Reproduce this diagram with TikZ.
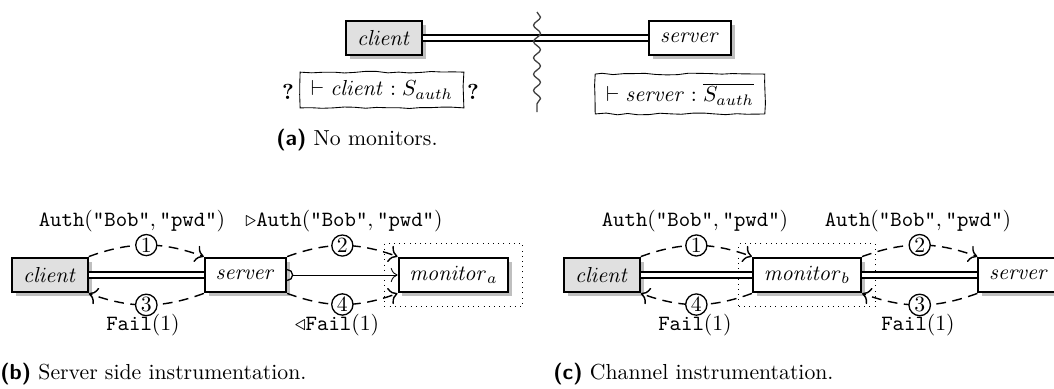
\documentclass[tikz,border=0pt]{standalone}
\usetikzlibrary{decorations.pathmorphing,shadows,fit,arrows.meta}
\begin{document}
\pgfmathsetseed{7}
\begin{tikzpicture}[x=0.46pt,y=-0.46pt,
  mybox/.style={draw,line width=0.95pt,fill=white,inner xsep=5pt,minimum height=16pt,
    drop shadow={shadow xshift=1.8pt,shadow yshift=-1.8pt,fill=black!25,opacity=1}},
  cbox/.style={mybox,fill=black!12},
  sbox/.style={mybox},
  dbl/.style={double,double distance=2.1pt,line width=0.6pt},
  msg/.style={line width=0.65pt,dash pattern=on 4.5pt off 3pt,-{To[scale=1.25]}},
  num/.style={circle,draw,semithick,fill=white,inner sep=0.5pt,solid},
  dotbox/.style={draw,dotted,inner sep=6pt},
  hand/.style={draw,decorate,decoration={random steps,segment length=5pt,amplitude=0.4pt},
    inner xsep=5pt,inner ysep=4pt},
  wiggle/.style={draw=black!75,semithick,decorate,
    decoration={snake,segment length=7.5pt,amplitude=1.6pt,post length=3pt}}]
\useasboundingbox (0,0) rectangle (1054,388);

% ---------- (a)
\node[cbox] (ca) at (384,38) {$\mathit{client}$};
\node[sbox] (sa) at (690,38) {$\mathit{server}$};
\draw[dbl] (ca) -- (sa);
\coordinate (wt) at (537,12);
\coordinate (wb) at (537,112);
\draw[wiggle] (wt) -- (wb);
\node[hand] (la) at (382,90) {$\vdash \mathit{client} : S_{auth}$};
\node (q1) at (288,92) {\textbf{?}};
\node (q2) at (473,92) {\textbf{?}};
\node[hand] (lb) at (680,94) {$\vdash \mathit{server} : \overline{S_{auth}}$};
\node (capa) at (357,140) {\textsf{\textbf{(a)}} No monitors.};

% ---------- (b)
\node[cbox] (cb) at (50,275) {$\mathit{client}$};
\node[sbox] (sb) at (245.5,275) {$\mathit{server}$};
\node[sbox] (mb) at (453.5,275) {$\mathit{monitor}_a$};
\node[dotbox,fit=(mb)] (db) {};
\draw[dbl] (cb) -- (sb);
\draw[semithick] ([yshift=2.5pt]sb.east) arc[start angle=90,end angle=-90,radius=2.5pt];
\coordinate (sbp) at ([xshift=2.5pt]sb.east);
\draw[-{To[scale=1.25]}] (sbp) -- (mb.west);
\draw[msg] (cb.north east) to[bend left=20] node[num] (n1) {1} (sb.north west);
\draw[msg] (sb.south west) to[bend left=20] node[num] (n3) {3} (cb.south east);
\draw[msg] (sb.north east) to[bend left=20] node[num] (n2) {2} (mb.north west);
\draw[msg] (sb.south east) to[bend right=20] node[num] (n4) {4} (mb.south west);
\node (t1) at (132,221) {$\texttt{Auth}(\texttt{"Bob"}, \texttt{"pwd"})$};
\node (t2) at (344,221) {$\triangleright\texttt{Auth}(\texttt{"Bob"}, \texttt{"pwd"})$};
\node (t3) at (143,325) {$\texttt{Fail}(1)$};
\node (t4) at (337,325) {$\triangleleft\texttt{Fail}(1)$};
\node[anchor=west,inner sep=0pt] (capb) at (0,374) {\textsf{\textbf{(b)}} Server side instrumentation.};

% ---------- (c)
\node[cbox] (cc) at (602,275) {$\mathit{client}$};
\node[sbox] (mc) at (807,275) {$\mathit{monitor}_b$};
\node[sbox] (sc) at (1019,275) {$\mathit{server}$};
\node[dotbox,fit=(mc)] (dc) {};
\draw[dbl] (cc) -- (mc);
\draw[dbl] (mc) -- (sc);
\draw[msg] (cc.north east) to[bend left=20] node[num] (m1) {1} (mc.north west);
\draw[msg] (mc.south west) to[bend left=20] node[num] (m4) {4} (cc.south east);
\draw[msg] (mc.north east) to[bend left=20] node[num] (m2) {2} (sc.north west);
\draw[msg] (sc.south west) to[bend left=20] node[num] (m3) {3} (mc.south east);
\node (u1) at (695,221) {$\texttt{Auth}(\texttt{"Bob"}, \texttt{"pwd"})$};
\node (u2) at (918,221) {$\texttt{Auth}(\texttt{"Bob"}, \texttt{"pwd"})$};
\node (u4) at (695,325) {$\texttt{Fail}(1)$};
\node (u3) at (918,325) {$\texttt{Fail}(1)$};
\node[anchor=west,inner sep=0pt] (capc) at (553,374) {\textsf{\textbf{(c)}} Channel instrumentation.};
\end{tikzpicture}
\end{document}
